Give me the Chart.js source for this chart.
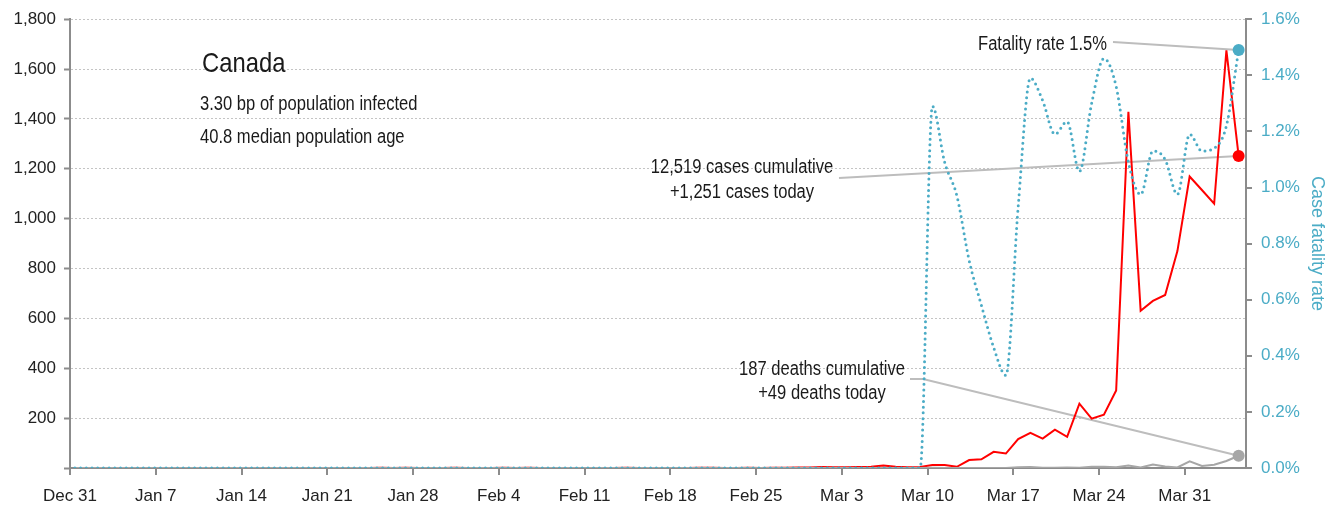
<!DOCTYPE html>
<html>
<head>
<meta charset="utf-8">
<title>Canada</title>
<script src="https://cdn.jsdelivr.net/npm/chart.js@4/dist/chart.umd.min.js"></script>
<style>
  html, body { margin: 0; padding: 0; background: #fff; }
</style>
</head>
<body>
<canvas id="chart" width="1328" height="510"></canvas>
<script>
var FONT = '"Liberation Sans", Arial, sans-serif';
var BLUE = '#4bacc6';
var RED = '#ff0000';
var GREY = '#a6a6a6';
var SQUEEZE = 0.85;   // the notes use a narrow face, fake it with a horizontal squeeze

// one value per day, Dec 31 .. Apr 4 (rows are weeks starting Dec 31)
var cases = [
  0, 0, 0, 0, 0, 0, 0,
  0, 0, 0, 0, 0, 0, 0,
  0, 0, 0, 0, 0, 0, 0,
  0, 0, 0, 0, 1, 0, 1,
  0, 0, 0, 1, 0, 0, 0,
  1, 0, 1, 0, 0, 0, 0,
  0, 0, 0, 1, 0, 0, 0,
  0, 0, 1, 1, 0, 0, 1,
  0, 1, 1, 2, 2, 4, 3,
  3, 4, 5, 10, 5, 3, 4,
  12, 12, 5, 32, 35, 65, 58,
  116, 141, 118, 154, 125, 258, 198,
  214, 311, 1429, 631, 670, 694, 870,
  1169, 1115, 1060, 1675, 1251
];
var deaths = [
  0, 0, 0, 0, 0, 0, 0,
  0, 0, 0, 0, 0, 0, 0,
  0, 0, 0, 0, 0, 0, 0,
  0, 0, 0, 0, 0, 0, 0,
  0, 0, 0, 0, 0, 0, 0,
  0, 0, 0, 0, 0, 0, 0,
  0, 0, 0, 0, 0, 0, 0,
  0, 0, 0, 0, 0, 0, 0,
  0, 0, 0, 0, 0, 0, 0,
  0, 0, 0, 0, 0, 0, 0,
  1, 0, 0, 0, 0, 0, 0,
  3, 4, 1, 1, 2, 1, 5,
  5, 3, 10, 2, 14, 6, 2,
  27, 8, 13, 28, 49
];
// case fatality rate, percent
var fatality = [
  0, 0, 0, 0, 0, 0, 0,
  0, 0, 0, 0, 0, 0, 0,
  0, 0, 0, 0, 0, 0, 0,
  0, 0, 0, 0, 0, 0, 0,
  0, 0, 0, 0, 0, 0, 0,
  0, 0, 0, 0, 0, 0, 0,
  0, 0, 0, 0, 0, 0, 0,
  0, 0, 0, 0, 0, 0, 0,
  0, 0, 0, 0, 0, 0, 0,
  0, 0, 0, 0, 0, 0, 0,
  1.29, 1.09, 0.97, 0.74, 0.58, 0.43, 0.33,
  0.93, 1.39, 1.31, 1.19, 1.235, 1.057, 1.30,
  1.46, 1.36, 1.09, 0.975, 1.13, 1.10, 0.975,
  1.19, 1.13, 1.14, 1.22, 1.49
];

var tickLabels = ['Dec 31', 'Jan 7', 'Jan 14', 'Jan 21', 'Jan 28', 'Feb 4', 'Feb 11',
                  'Feb 18', 'Feb 25', 'Mar 3', 'Mar 10', 'Mar 17', 'Mar 24', 'Mar 31'];
var TICK_STEP = 7;      // a label every week
var DAY_SHIFT = 0.4;    // reports sit a bit after the date tick
var DAYS_SHOWN = 96;

function points(arr) {
  return arr.map(function (v, i) { return { x: i + DAY_SHIFT, y: v }; });
}
function lastOnly(r) {
  return function (ctx) { return ctx.dataIndex === ctx.dataset.data.length - 1 ? r : 0; };
}
function note(ctx, text, x, y, align) {
  ctx.save();
  ctx.translate(x, y);
  ctx.scale(SQUEEZE, 1);
  ctx.textAlign = align;
  ctx.fillText(text, 0, 0);
  ctx.restore();
}

// leader lines + text notes
var notes = {
  id: 'notes',
  beforeDatasetsDraw: function (chart) {
    var ctx = chart.ctx;
    function end(i) { var d = chart.getDatasetMeta(i).data; return d[d.length - 1]; }
    function leader(path, p) {
      ctx.beginPath();
      ctx.moveTo(path[0][0], path[0][1]);
      for (var k = 1; k < path.length; k++) ctx.lineTo(path[k][0], path[k][1]);
      ctx.lineTo(p.x, p.y);
      ctx.stroke();
    }
    ctx.save();
    ctx.strokeStyle = '#bdbdbd';
    ctx.lineWidth = 2;
    leader([[1113, 42]], end(0));
    leader([[839, 178]], end(2));
    leader([[910, 379], [923, 379]], end(1));
    ctx.restore();
  },
  afterDatasetsDraw: function (chart) {
    var ctx = chart.ctx;
    ctx.save();
    ctx.fillStyle = '#1a1a1a';
    ctx.textBaseline = 'alphabetic';
    ctx.font = '28px ' + FONT;
    note(ctx, 'Canada', 202, 72, 'left');
    ctx.font = '19.5px ' + FONT;
    note(ctx, '3.30 bp of population infected', 200, 110, 'left');
    note(ctx, '40.8 median population age', 200, 143, 'left');
    note(ctx, 'Fatality rate 1.5%', 1107, 50, 'right');
    note(ctx, '12,519 cases cumulative', 742, 173, 'center');
    note(ctx, '+1,251 cases today', 742, 198, 'center');
    note(ctx, '187 deaths cumulative', 822, 375, 'center');
    note(ctx, '+49 deaths today', 822, 399, 'center');
    ctx.restore();
  }
};

var tickFont = { family: FONT, size: 17 };

var chart = new Chart(document.getElementById('chart'), {
  type: 'line',
  data: {
    datasets: [
      {
        label: 'Case fatality rate',
        data: points(fatality),
        yAxisID: 'yRate',
        borderColor: BLUE,
        borderWidth: 3,
        borderDash: [0, 5.7],
        borderCapStyle: 'round',
        cubicInterpolationMode: 'monotone',
        pointRadius: lastOnly(6),
        pointBackgroundColor: BLUE,
        pointBorderWidth: 0
      },
      {
        label: 'Deaths',
        data: points(deaths),
        yAxisID: 'y',
        borderColor: GREY,
        borderWidth: 2,
        pointRadius: lastOnly(6),
        pointBackgroundColor: GREY,
        pointBorderWidth: 0
      },
      {
        label: 'Cases',
        data: points(cases),
        yAxisID: 'y',
        borderColor: RED,
        borderWidth: 2,
        pointRadius: lastOnly(6),
        pointBackgroundColor: RED,
        pointBorderWidth: 0
      }
    ]
  },
  options: {
    responsive: false,
    animation: false,
    layout: { padding: { top: 15, left: 0, right: 0, bottom: 0 } },
    plugins: {
      legend: { display: false },
      tooltip: { enabled: false }
    },
    scales: {
      x: {
        type: 'linear',
        min: 0,
        max: DAYS_SHOWN,
        afterBuildTicks: function (s) {
          s.ticks = tickLabels.map(function (t, i) { return { value: i * TICK_STEP }; });
        },
        afterFit: function (s) { s.height = 42; },
        ticks: {
          autoSkip: false,
          maxRotation: 0,
          padding: 11,
          color: '#222',
          font: tickFont,
          callback: function (v) { return tickLabels[v / TICK_STEP]; }
        },
        grid: { drawOnChartArea: false, color: '#8c8c8c', tickLength: 7, lineWidth: 2 },
        border: { display: true, color: '#8c8c8c', width: 2 }
      },
      y: {
        position: 'left',
        min: 0,
        max: 1800,
        afterFit: function (s) { s.width = 70; },
        ticks: {
          stepSize: 200,
          padding: 8,
          color: '#222',
          font: tickFont,
          callback: function (v) { return v === 0 ? '' : v.toLocaleString('en-US'); }
        },
        grid: { color: '#c4c4c4', lineWidth: 1, tickColor: '#8c8c8c', tickLength: 6, tickWidth: 2 },
        border: { display: true, color: '#8c8c8c', width: 2, dash: [2, 2] }
      },
      yRate: {
        position: 'right',
        min: 0,
        max: 1.6,
        afterFit: function (s) { s.width = 82; },
        ticks: {
          stepSize: 0.2,
          padding: 9,
          color: BLUE,
          font: tickFont,
          callback: function (v) { return v.toFixed(1) + '%'; }
        },
        grid: { drawOnChartArea: false, color: '#8c8c8c', tickLength: 6, lineWidth: 2 },
        border: { display: true, color: '#8c8c8c', width: 2 },
        title: {
          display: true,
          text: 'Case fatality rate',
          color: BLUE,
          font: { family: FONT, size: 18 },
          padding: { top: 0, bottom: 0 }
        }
      }
    }
  },
  plugins: [notes]
});
</script>
</body>
</html>
